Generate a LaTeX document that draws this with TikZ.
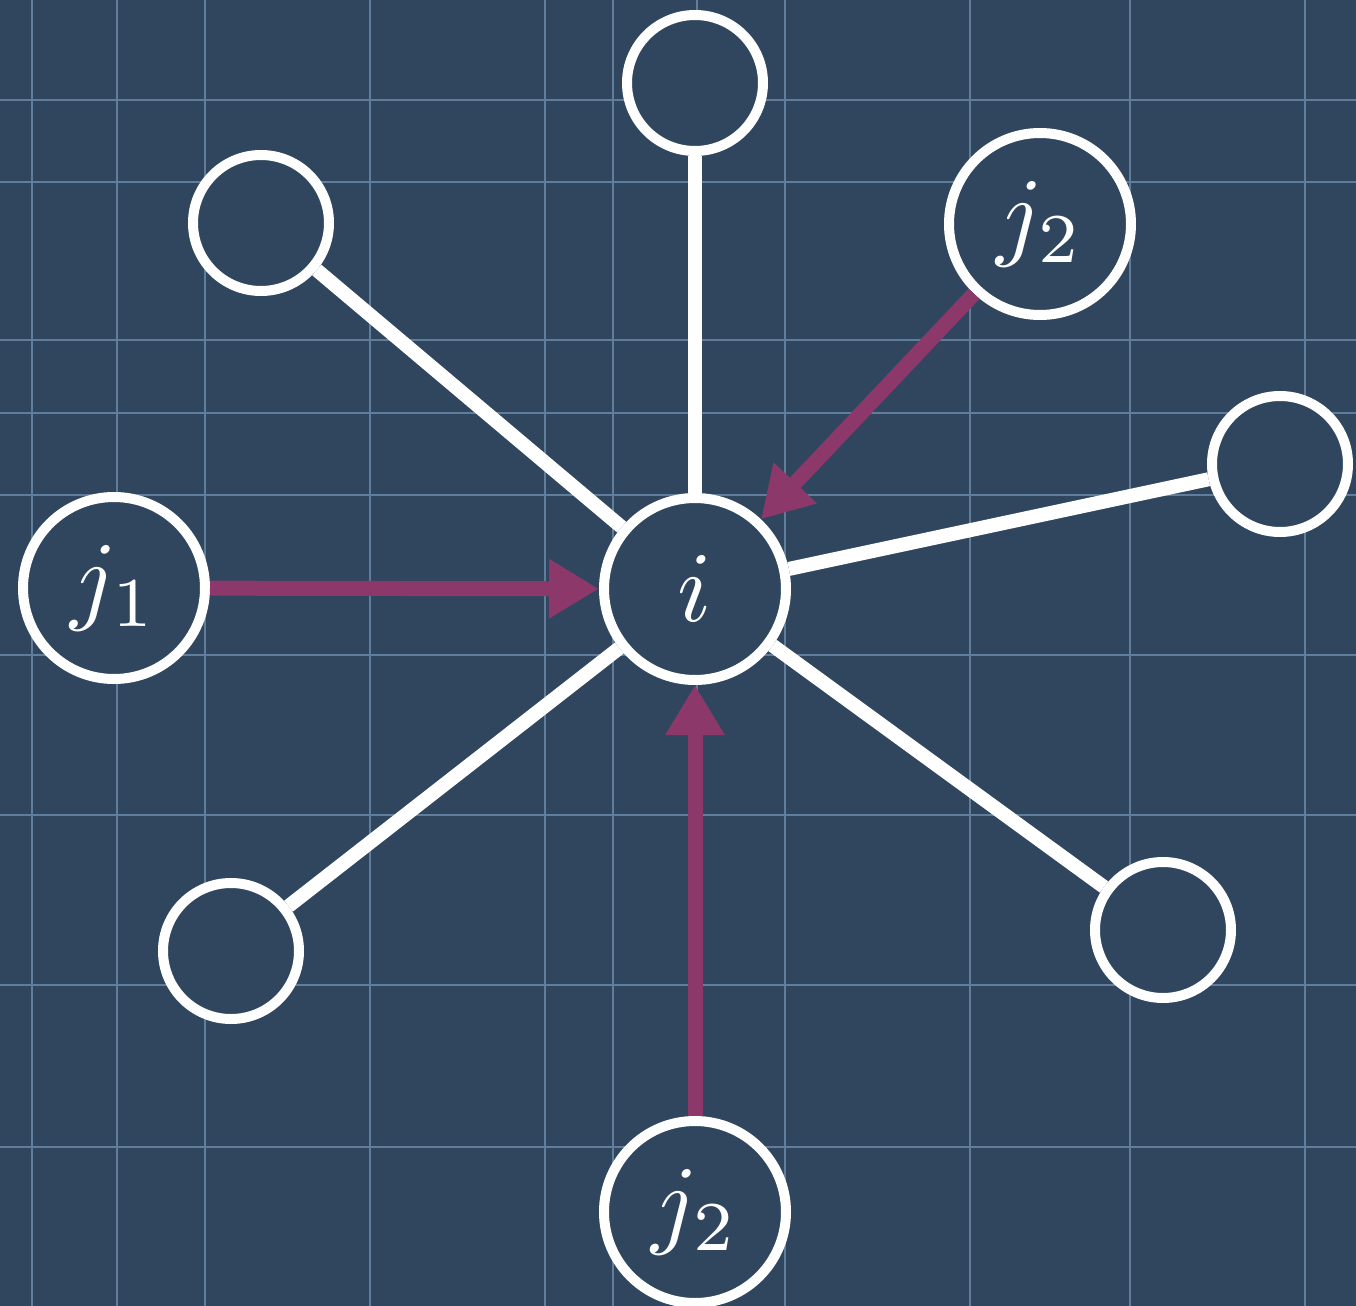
\documentclass[tikz,border=0pt]{standalone}
\usepackage{graphicx}
\usetikzlibrary{arrows.meta}
\definecolor{bg}{RGB}{47,70,94}
\definecolor{gridc}{RGB}{96,126,156}
\definecolor{edgepink}{RGB}{140,56,106}
\newcommand{\biglabel}[1]{\scalebox{5}{$#1$}}
\begin{document}
\begin{tikzpicture}[x=0.5pt,y=-0.5pt,
  vertex/.style={circle, draw=white, line width=5pt, fill=bg, minimum size=68pt, inner sep=0pt},
  labelled/.style={vertex, minimum size=91pt, text=white},
  link/.style={white, line width=7pt},
  flow/.style={edgepink, line width=7.5pt, -{Triangle[length=25pt,width=28pt]}},
  gridline/.style={gridc, line width=1pt}]
\fill[bg] (0,0) rectangle (1356,1306);
\useasboundingbox (0,0) rectangle (1356,1306);
\foreach \x in {32,117,205,370,545,613,697,785,970,1130,1305}
  \draw[gridline] (\x,0) -- (\x,1306);
\foreach \y in {100,182,340,413,495,655,815,985,1147}
  \draw[gridline] (0,\y) -- (1356,\y);
\node[labelled] (i) at (695,589) {\biglabel{i}};
\node[vertex] (top) at (695,83) {};
\node[vertex] (tl) at (261,223) {};
\node[labelled] (j2a) at (1040,224) {\biglabel{j_2}};
\node[vertex] (r) at (1280,464) {};
\node[labelled] (j1) at (114,588) {\biglabel{j_1}};
\node[vertex] (bl) at (231,951) {};
\node[vertex] (br) at (1163,930) {};
\node[labelled] (j2b) at (695,1212) {\biglabel{j_2}};
\draw[link] (i) -- (top);
\draw[link] (i) -- (tl);
\draw[link] (i) -- (r);
\draw[link] (i) -- (bl);
\draw[link] (i) -- (br);
\draw[flow] (j1) -- (i);
\draw[flow] (j2a) -- (i);
\draw[flow] (j2b) -- (i);
\end{tikzpicture}
\end{document}
